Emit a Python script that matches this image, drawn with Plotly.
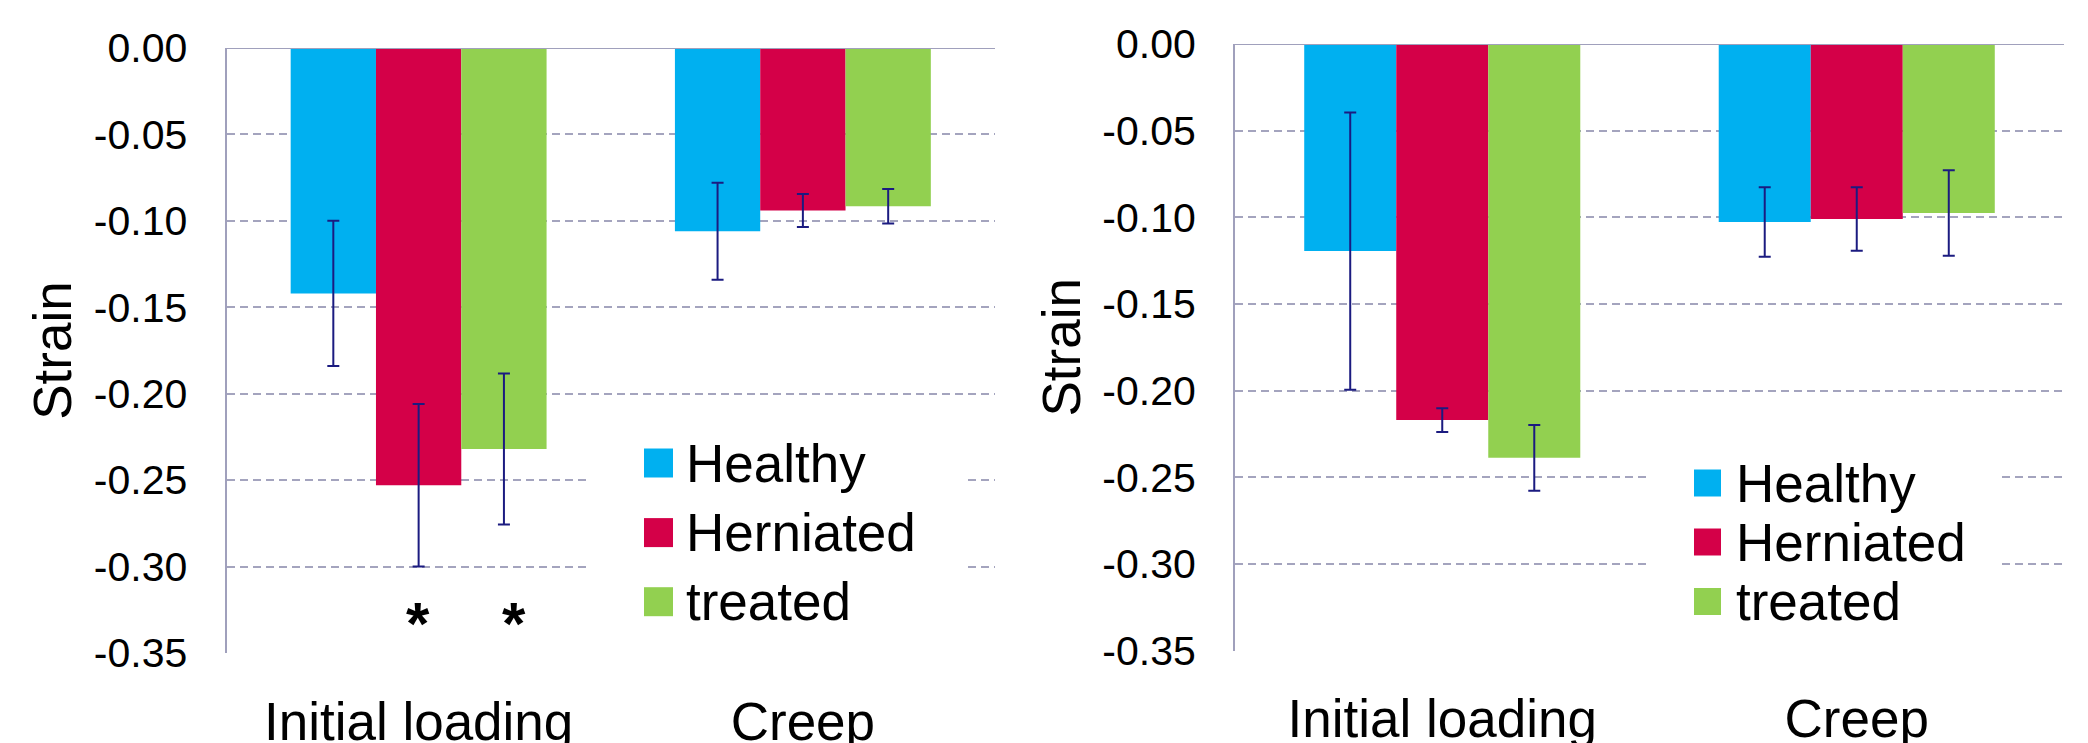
import plotly.graph_objects as go

# ---------------- data ----------------
categories = ["Initial loading", "Creep"]
series_names = ["Healthy", "Herniated", "treated"]
series_colors = ["#00B0F0", "#D40048", "#92D050"]

# left panel
left_healthy = [-0.142, -0.106]
left_herniated = [-0.253, -0.094]
left_treated = [-0.232, -0.0915]
left_healthy_err = [0.042, 0.028]
left_herniated_err = [0.047, 0.0095]
left_treated_err = [0.0437, 0.010]

# right panel
right_healthy = [-0.1195, -0.1027]
right_herniated = [-0.217, -0.101]
right_treated = [-0.2388, -0.0975]
right_healthy_err = [0.080, 0.020]
right_herniated_err = [0.0068, 0.0183]
right_treated_err = [0.019, 0.0247]

# significance markers (left panel): (series index, category index, y value)
stars_left = [(1, 0, -0.329), (2, 0, -0.329)]

y_tickvals = [0.0, -0.05, -0.10, -0.15, -0.20, -0.25, -0.30, -0.35]
y_ticktext = ["0.00", "-0.05", "-0.10", "-0.15", "-0.20", "-0.25", "-0.30", "-0.35"]
y_title = "Strain"

# ---------------- layout helpers ----------------
W, H = 2088, 743
FONT = "Liberation Sans, Arial, sans-serif"
ERR_COLOR = "#1B1B80"
GRID_COLOR = "#A4A4BE"
AXIS_COLOR = "#A0A0BC"
BARGAP = 0.334


def px_x(p):
    return p / W


def px_y(p):
    return 1 - p / H


panels = [
    dict(vals=[left_healthy, left_herniated, left_treated],
         errs=[left_healthy_err, left_herniated_err, left_treated_err],
         xdom=[px_x(226.5), px_x(995)], ydom=[px_y(653), px_y(48)],
         legend_box=(590, 965, 420, 642), sq=(644, 673), sq_centers=[463, 532.6, 601.7], text_x=684),
    dict(vals=[right_healthy, right_herniated, right_treated],
         errs=[right_healthy_err, right_herniated_err, right_treated_err],
         xdom=[px_x(1235), px_x(2064)], ydom=[px_y(650.6), px_y(44)],
         legend_box=(1646, 2001, 440, 640), sq=(1694, 1721), sq_centers=[483, 542, 601.5], text_x=1734),
]

fig = go.Figure()
shapes = []
annotations = []

for i, p in enumerate(panels):
    sfx = "" if i == 0 else str(i + 1)
    xa, ya = "x" + sfx, "y" + sfx
    for name, color, v, e in zip(series_names, series_colors, p["vals"], p["errs"]):
        fig.add_trace(go.Bar(
            x=categories, y=v, name=name, xaxis=xa, yaxis=ya,
            marker=dict(color=color, line=dict(width=0)),
            error_y=dict(type="data", array=e, visible=True, color=ERR_COLOR,
                         thickness=2, width=6),
            showlegend=False,
        ))
    fig.update_layout(**{
        "xaxis" + sfx: dict(domain=p["xdom"], anchor=ya, showgrid=False, zeroline=False,
                            showline=False, ticks="outside", ticklen=22, automargin=False,
                            tickcolor="rgba(0,0,0,0)",
                            tickfont=dict(family=FONT, size=53, color="black")),
        "yaxis" + sfx: dict(domain=p["ydom"], anchor=xa, range=[-0.35, 0], automargin=False,
                            tickvals=y_tickvals, ticktext=y_ticktext,
                            showgrid=True, gridcolor=GRID_COLOR, gridwidth=2,
                            griddash="8px,5px", zeroline=False,
                            showline=True, linecolor=AXIS_COLOR, linewidth=2,
                            ticks="outside", ticklen=29, tickcolor="rgba(0,0,0,0)",
                            tickfont=dict(family=FONT, size=41, color="black"),
                            title=dict(text=y_title, standoff=5,
                                       font=dict(family=FONT, size=53, color="black"))),
    })
    # solid axis line at zero (top)
    shapes.append(dict(type="line", xref=xa + " domain", yref=ya, x0=0, x1=1, y0=0, y1=0,
                       line=dict(color=AXIS_COLOR, width=2), layer="above"))
    # manual legend
    bx0, bx1, by0, by1 = p["legend_box"]
    shapes.append(dict(type="rect", xref="paper", yref="paper",
                       x0=px_x(bx0), x1=px_x(bx1), y0=px_y(by1), y1=px_y(by0),
                       fillcolor="white", line=dict(width=0), layer="above"))
    s0, s1 = p["sq"]
    half = (s1 - s0) / 2
    for name, color, cy in zip(series_names, series_colors, p["sq_centers"]):
        shapes.append(dict(type="rect", xref="paper", yref="paper",
                           x0=px_x(s0), x1=px_x(s1), y0=px_y(cy + half), y1=px_y(cy - half),
                           fillcolor=color, line=dict(width=0), layer="above"))
        annotations.append(dict(xref="paper", yref="paper", x=px_x(p["text_x"]), y=px_y(cy),
                                text=name, showarrow=False, xanchor="left", yanchor="middle",
                                font=dict(family=FONT, size=53, color="black")))

# stars on the left panel
group_w = 1 - BARGAP
for s_idx, c_idx, yv in stars_left:
    offset = (s_idx - 1) * group_w / 3
    annotations.append(dict(xref="x", yref="y", x=c_idx + offset, y=yv, text="<b>*</b>",
                            showarrow=False, xanchor="center", yanchor="middle",
                            xshift=10 if s_idx == 2 else -1, yshift=-7,
                            font=dict(family=FONT, size=60, color="black")))

fig.update_layout(
    width=W, height=H, margin=dict(l=0, r=0, t=0, b=0, autoexpand=False),
    paper_bgcolor="white", plot_bgcolor="white",
    barmode="group", bargap=BARGAP, bargroupgap=0,
    shapes=shapes, annotations=annotations, showlegend=False,
)

fig.write_html(
    "out.html",
    config={"displayModeBar": False},
    post_script="document.body.style.margin='0';document.body.style.overflow='hidden';",
)
